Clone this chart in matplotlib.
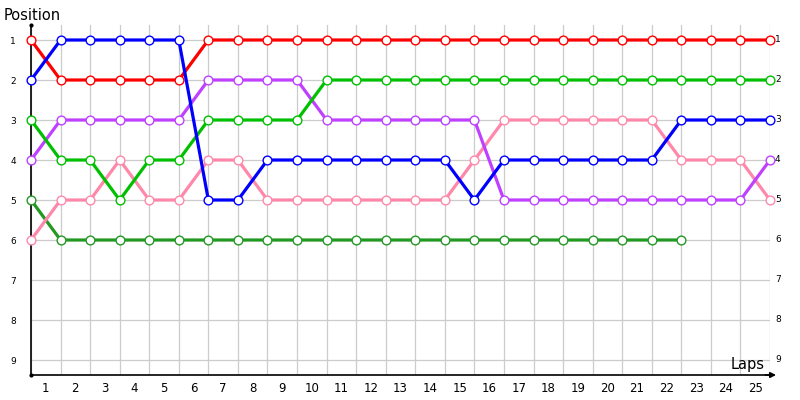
import matplotlib
matplotlib.use("Agg")
import matplotlib.pyplot as plt
import matplotlib.transforms as mtransforms

# Données : position de chaque pilote à chaque tour (indice 0 = départ)
laps_labels = [str(i) for i in range(1, 26)]
positions = list(range(1, 10))

red = [1, 2, 2, 2, 2, 2] + [1] * 20
blue = [2, 1, 1, 1, 1, 1, 5, 5, 4, 4, 4, 4, 4, 4, 4, 5, 4, 4, 4, 4, 4, 4, 3, 3, 3, 3]
green = [3, 4, 4, 5, 4, 4, 3, 3, 3, 3] + [2] * 16
purple = [4, 3, 3, 3, 3, 3, 2, 2, 2, 2, 3, 3, 3, 3, 3, 3, 5, 5, 5, 5, 5, 5, 5, 5, 5, 4]
pink = [6, 5, 5, 4, 5, 5, 4, 4, 5, 5, 5, 5, 5, 5, 5, 4, 3, 3, 3, 3, 3, 3, 4, 4, 4, 5]
dark_green = [5] + [6] * 22

series = [
    (dark_green, '#229922'),
    (pink, '#ff88aa'),
    (purple, '#c040ff'),
    (green, '#00c000'),
    (red, '#ff0000'),
    (blue, '#0000ff'),
]

fig = plt.figure(figsize=(8, 4), dpi=100)
ax = fig.add_axes([31 / 800, 25 / 400, 739 / 800, 350 / 400])

# Grille
for x in range(0, 26):
    ax.axvline(x, color='#cccccc', lw=0.9, zorder=0)
for y in positions:
    ax.axhline(y, color='#cccccc', lw=0.9, zorder=0)

# Courbes des pilotes
for vals, col in series:
    ax.plot(range(len(vals)), vals, color=col, lw=2.3, marker='o', ms=6.3,
            mfc='white', mec=col, mew=1.0, zorder=3, clip_on=False)

ax.set_xlim(0, 25)
ax.set_ylim(9.375, 0.625)

# Positions à gauche
ax.set_yticks(positions)
ax.set_yticklabels([str(p) for p in positions], fontsize=6.5)
ax.tick_params(axis='y', length=0, pad=11)

# Positions à droite, collées à la dernière ligne verticale
trans = mtransforms.blended_transform_factory(ax.transAxes, ax.transData)
trans = trans + mtransforms.ScaledTranslation(5 / 100, 0, fig.dpi_scale_trans)
for p in positions:
    ax.text(1.0, p, str(p), transform=trans, fontsize=6.5, ha='left',
            va='center', clip_on=False)

# Tours (étiquettes entre les lignes)
ax.set_xticks([i + 0.5 for i in range(25)])
ax.set_xticklabels(laps_labels, fontsize=8.5)
ax.tick_params(axis='x', length=0, pad=5)

# Axes : ligne verticale avec points, ligne horizontale avec flèche
for s in ['top', 'right']:
    ax.spines[s].set_visible(False)
ax.spines['left'].set_linewidth(1.2)
ax.spines['bottom'].set_linewidth(1.2)
ax.plot([0, 0], [0.625, 9.375], 'k.', ms=4, clip_on=False, zorder=5)
ax.annotate('', xy=(1.012, 0), xycoords='axes fraction', xytext=(0.99, 0),
            textcoords='axes fraction',
            arrowprops=dict(arrowstyle='-|>', color='black', lw=1.2,
                            mutation_scale=8))

fig.text(4 / 800, 1 - 15 / 400, 'Position', fontsize=10.5, va='center', ha='left')
fig.text(765 / 800, 1 - 365 / 400, 'Laps', fontsize=10.5, va='center', ha='right')

fig.savefig('out.png', dpi=100)
